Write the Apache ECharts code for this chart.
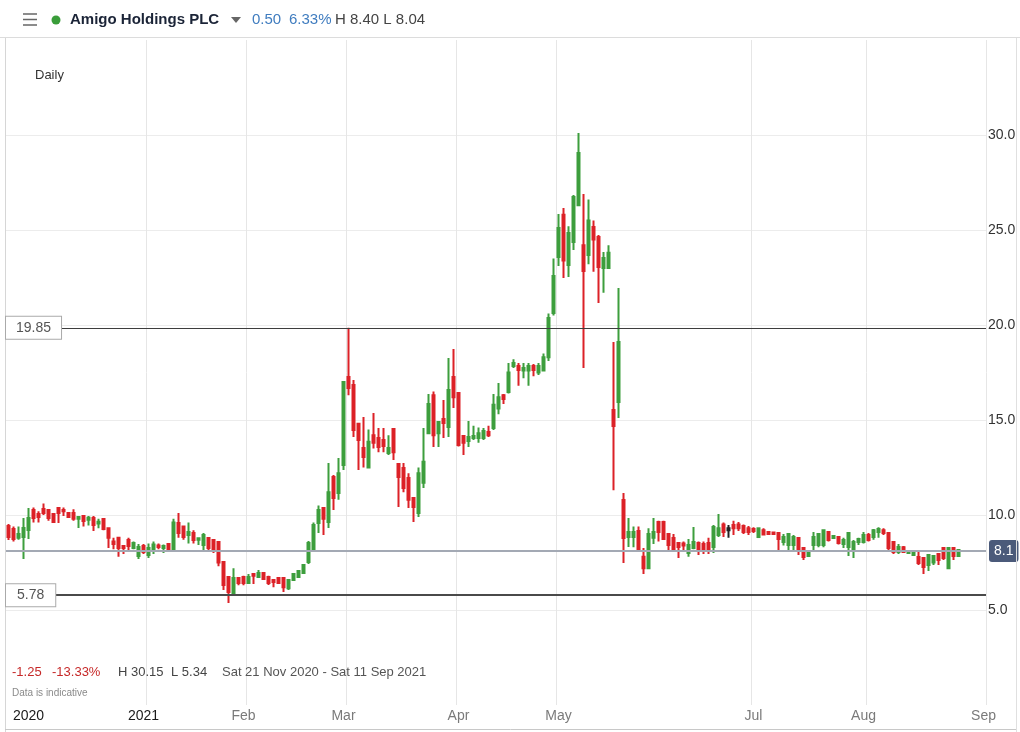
<!DOCTYPE html>
<html><head><meta charset="utf-8">
<script src="https://cdn.jsdelivr.net/npm/echarts@6/dist/echarts.min.js"></script>
<style>html,body{margin:0;padding:0;background:#fff}#c{width:1020px;height:732px}</style>
</head><body><div id="c"></div>
<script>
// ---- data (one candle per trading day) ----
const opens = [9.42,9.26,8.8,8.84,9.21,10.26,10.05,10.32,10.26,10.05,10.37,10.26,10.1,10.1,9.8,9.95,9.75,9.84,9.55,9.79,
9.3,8.6,8.8,8.37,8.68,8.26,7.84,8.37,7.9,8.2,8.4,8.26,8.47,8.16,9.58,9.4,8.95,9.05,8.7,8.42,
8.79,8.68,8.58,7.53,6.74,5.9,6.68,6.74,6.42,6.9,6.74,6.95,6.74,6.58,6.68,6.68,6.15,6.58,6.74,6.95,
7.53,8.16,9.58,10.37,9.63,12.0,11.16,12.63,17.26,16.84,14.8,13.53,12.5,14.2,14.05,13.95,13.26,14.53,12.68,12.47,
11.95,10.9,10.1,11.7,14.3,16.3,14.3,15.05,14.63,17.26,16.42,14.16,13.9,14.05,14.05,14.05,14.37,14.58,15.6,16.3,
16.47,17.84,17.84,17.6,17.6,17.84,17.5,17.6,18.3,20.63,23.58,25.8,23.16,24.37,26.3,24.2,23.68,25.16,24.63,23.0,
23.0,15.53,15.95,10.79,8.84,8.84,9.16,7.8,7.2,8.8,9.63,9.63,9.0,8.79,8.53,8.5,8.0,8.26,8.53,8.47,
8.53,8.32,8.95,9.5,9.3,9.47,9.5,9.42,9.3,9.26,8.84,9.2,9.1,9.08,9.05,8.58,8.42,8.42,8.79,8.26,
7.84,8.42,8.42,8.42,9.1,8.79,8.84,8.47,8.32,8.16,8.58,8.58,8.95,8.84,9.1,9.2,9.05,8.58,8.05,8.3,
8.0,7.9,7.79,7.74,7.37,7.5,7.95,8.26,7.2,8.26,7.84];
const closes = [8.84,8.74,9.0,9.32,9.84,9.84,9.9,10.1,9.84,9.63,10.1,10.2,9.9,9.8,9.9,9.68,9.85,9.47,9.65,9.26,
8.8,8.47,8.26,8.26,8.37,8.52,8.32,8.05,8.26,8.45,8.32,8.37,8.16,9.6,9.05,8.84,9.1,8.68,8.78,8.95,
8.26,8.16,7.5,6.32,5.95,6.68,6.42,6.42,6.74,6.8,6.95,6.63,6.42,6.47,6.42,6.2,6.58,6.9,7.05,7.37,
8.53,9.47,10.26,9.8,11.2,10.9,12.2,17.0,16.68,14.47,13.95,13.05,13.85,13.8,13.58,13.63,13.53,13.3,12.0,11.42,
10.8,10.42,12.2,12.8,15.84,14.2,14.9,14.84,16.58,16.2,13.68,13.8,14.1,14.16,14.3,14.42,14.2,15.8,16.2,16.1,
17.5,18.0,17.63,17.74,17.84,17.63,17.84,18.3,20.37,22.58,25.1,23.4,24.84,26.74,29.05,22.84,25.5,24.5,23.05,23.53,
23.8,14.68,19.1,8.79,9.1,9.1,8.2,7.2,9.0,9.1,9.1,8.74,8.42,8.2,8.32,8.4,8.42,8.58,8.2,8.2,
8.2,9.37,9.3,9.1,9.2,9.3,9.3,9.1,9.1,9.16,9.3,8.98,9.0,9.0,8.74,8.84,9.0,8.84,8.1,7.79,
8.1,8.84,9.0,9.2,8.68,8.9,8.53,8.68,9.05,8.58,8.74,8.95,8.68,9.2,9.26,9.05,8.26,8.05,8.32,8.05,
8.1,8.05,7.47,7.26,7.9,7.84,7.63,7.74,8.26,7.84,8.16];
const lows = [8.68,8.6,8.7,7.68,8.74,9.6,9.6,10.0,9.7,9.6,9.58,9.95,9.85,9.7,9.32,9.4,9.45,9.16,9.3,9.2,
8.26,8.2,7.8,7.95,8.1,8.2,7.68,7.95,7.74,7.95,8.2,8.0,8.1,8.1,8.8,8.7,8.5,8.5,8.42,8.16,
8.16,8.0,7.3,6.05,5.37,5.79,6.3,6.3,6.37,6.37,6.68,6.58,6.32,6.2,6.37,5.95,6.05,6.53,6.68,6.9,
7.42,8.1,9.05,8.95,9.32,10.26,10.8,12.37,16.3,14.1,12.37,12.5,12.5,13.5,13.3,13.3,13.16,12.9,10.42,11.2,
10.37,9.63,9.9,11.42,14.3,13.58,13.58,14.05,14.1,15.63,13.6,13.16,13.58,13.95,13.8,13.95,14.1,14.47,15.3,15.84,
16.4,17.74,16.8,17.2,16.8,17.3,17.37,17.55,18.1,20.5,23.1,22.47,22.53,23.95,26.3,17.74,23.2,22.8,21.16,21.7,
22.95,11.3,15.1,7.47,8.32,8.3,8.1,6.9,7.15,8.47,8.6,8.68,8.16,8.1,7.74,8.1,7.8,8.2,7.9,7.95,
7.95,8.0,8.84,8.84,8.8,8.95,9.16,9.0,8.95,9.05,8.84,8.95,8.95,8.95,8.16,8.4,8.16,8.16,7.9,7.63,
7.8,8.16,8.3,8.3,8.6,8.75,8.45,8.26,7.84,7.74,8.42,8.5,8.6,8.7,8.8,8.95,8.16,7.95,7.95,8.0,
7.95,7.84,7.37,6.9,7.05,7.37,7.37,7.63,7.15,7.63,7.79];
const highs = [9.53,9.4,9.4,9.84,10.37,10.4,10.2,10.6,10.3,10.1,10.42,10.4,10.15,10.3,9.95,9.95,9.95,9.95,9.8,9.84,
9.32,8.8,8.8,8.37,8.8,8.6,8.47,8.47,8.5,8.6,8.5,8.45,8.52,9.8,10.1,9.45,9.6,9.2,8.8,9.05,
8.8,8.7,8.6,7.53,6.74,7.2,6.74,6.8,6.9,6.95,7.1,7.0,6.8,6.63,6.74,6.74,6.63,6.95,7.1,7.42,
8.63,9.6,10.5,10.42,12.74,12.1,13.0,17.0,19.85,17.1,14.8,15.16,14.5,15.37,14.58,14.58,14.2,14.58,12.68,12.74,
12.2,10.95,12.5,14.58,16.37,16.5,14.9,16.05,18.26,18.74,16.42,14.16,14.95,14.7,14.6,14.58,14.7,16.37,16.95,16.37,
18.0,18.2,18.0,18.0,18.0,17.95,18.0,18.5,20.6,23.5,25.84,26.16,25.2,26.84,30.1,26.9,26.6,25.5,24.74,23.84,
24.2,19.1,21.95,11.16,9.84,9.4,9.4,8.26,9.3,9.84,9.7,9.7,9.0,9.0,8.58,8.6,8.74,9.37,8.6,8.6,
8.8,9.47,10.05,9.6,9.47,9.7,9.63,9.5,9.42,9.35,9.3,9.3,9.16,9.12,9.1,9.0,9.05,8.95,8.84,8.3,
8.16,9.1,9.05,9.2,9.1,8.95,8.9,8.8,9.1,8.68,8.8,9.1,9.05,9.26,9.35,9.3,9.1,8.63,8.47,8.37,
8.15,8.1,8.16,7.79,7.95,7.9,7.95,8.3,8.3,8.26,8.2];
const unchangedDays = [144];
const slotCount = 196;
const tickLabels = [
  {at:4, text:'2020', year:true}, {at:27, text:'2021', year:true}, {at:47, text:'Feb'},
  {at:67, text:'Mar'}, {at:90, text:'Apr'}, {at:110, text:'May'}, {at:149, text:'Jul'},
  {at:171, text:'Aug'}, {at:195, text:'Sep'}
];
const gridBoundaries = [28, 48, 68, 90, 110, 149, 172];
const priceLevels = [19.85, 5.78];
const lastPrice = 8.1;
const headerName = 'Amigo Holdings PLC';
const headerChange = '0.50', headerPct = '6.33%', headerHL = 'H 8.40 L 8.04';
const rangeChange = '-1.25', rangePct = '-13.33%', rangeHigh = 'H 30.15', rangeLow = 'L 5.34';
const rangeText = 'Sat 21 Nov 2020 - Sat 11 Sep 2021';

// ---- chart ----
const UP = '#3d9e3d', DOWN = '#dc2127';
const FONT = 'Liberation Sans, Arial, sans-serif';
const cats = [];
for (let k = 0; k < slotCount; k++) cats.push('');
tickLabels.forEach(t => { cats[t.at] = t.text; });
const labelSet = new Set(tickLabels.map(t => t.at));
const yearSet = new Set(tickLabels.filter(t => t.year).map(t => t.at));
const gridSet = new Set(gridBoundaries);

const candles = opens.map((o, i) => {
  const v = [o, closes[i], lows[i], highs[i]];
  if (unchangedDays.includes(i)) {
    return {value: v, itemStyle: {color:'#222', color0:'#222', borderColor:'#222', borderColor0:'#222'}};
  }
  return v;
});

const chart = echarts.init(document.getElementById('c'), null, {renderer: 'canvas'});
chart.setOption({
  animation: false,
  backgroundColor: '#fff',
  textStyle: {fontFamily: FONT},
  grid: {left: 6, right: 34, top: 40, bottom: 27},
  xAxis: {
    type: 'category', data: cats, boundaryGap: true,
    axisLine: {show: false}, axisTick: {show: false},
    axisLabel: {
      interval: (i) => labelSet.has(i), margin: 4,
      formatter: (v, i) => yearSet.has(i) ? '{y|' + v + '}' : '{m|' + v + '}',
      rich: {y: {color: '#1a1a1a', fontSize: 14, fontFamily: FONT}, m: {color: '#7a7a7a', fontSize: 14, fontFamily: FONT}}
    },
    splitLine: {show: true, interval: (i) => gridSet.has(i), lineStyle: {color: '#e6e6e6', width: 1}}
  },
  yAxis: {
    type: 'value', position: 'right', min: 0, max: 35, interval: 5, scale: false,
    axisLine: {show: false}, axisTick: {show: false},
    axisLabel: {color: '#333', fontSize: 14, margin: 2, showMinLabel: false, showMaxLabel: false,
      formatter: v => v.toFixed(1)},
    splitLine: {show: true, showMinLine: false, showMaxLine: false, lineStyle: {color: '#ececec', width: 1}}
  },
  series: [{
    type: 'candlestick', data: candles, barWidth: 2,
    itemStyle: {color: UP, color0: DOWN, borderColor: UP, borderColor0: DOWN, borderWidth: 2},
    markLine: {
      silent: true, symbol: ['none', 'none'], animation: false,
      data: [
        {yAxis: priceLevels[0], lineStyle: {color: '#3d3d3d', width: 1, type: 'solid'}, label: {show: false}},
        {yAxis: priceLevels[1], lineStyle: {color: '#4a4a4a', width: 2, type: 'solid'}, label: {show: false}},
        {yAxis: lastPrice, lineStyle: {color: '#a3a9b4', width: 2, type: 'solid'},
         label: {show: true, position: 'end', distance: 3, formatter: String(lastPrice),
                 backgroundColor: '#4b5a7a', color: '#fff', padding: [4, 5, 4, 5], borderRadius: 3,
                 fontSize: 14, fontFamily: FONT}}
      ]
    }
  }]
});

function txt(x, y, text, color, size, weight) {
  return {type: 'text', x: x, y: y, z: 100,
    style: {text: text, fill: color, font: (weight || 'normal') + ' ' + size + 'px ' + FONT, textVerticalAlign: 'middle'}};
}
function levelBox(v, padX) {
  const y = chart.convertToPixel({yAxisIndex: 0}, v);
  return {type: 'text', x: 6, y: y, z: 100,
    style: {text: v.toFixed(2), fill: '#555', font: '14px ' + FONT, textVerticalAlign: 'middle',
      backgroundColor: '#fff', borderColor: '#aaa', borderWidth: 1, padding: [4, padX, 4, padX]}};
}
const graphics = [
  // frame
  {type: 'line', shape: {x1: 0, y1: 37.5, x2: 1020, y2: 37.5}, style: {stroke: '#dcdcdc', lineWidth: 1}, z: 50},
  {type: 'line', shape: {x1: 5.5, y1: 38, x2: 5.5, y2: 732}, style: {stroke: '#d6d6d6', lineWidth: 1}, z: 50},
  {type: 'line', shape: {x1: 1016.5, y1: 38, x2: 1016.5, y2: 732}, style: {stroke: '#e0e0e0', lineWidth: 1}, z: 50},
  {type: 'line', shape: {x1: 5, y1: 729.5, x2: 1016, y2: 729.5}, style: {stroke: '#c8c8c8', lineWidth: 1}, z: 50},
  // header
  {type: 'line', shape: {x1: 23, y1: 14, x2: 37, y2: 14}, style: {stroke: '#666', lineWidth: 1.5}},
  {type: 'line', shape: {x1: 23, y1: 19.5, x2: 37, y2: 19.5}, style: {stroke: '#666', lineWidth: 1.5}},
  {type: 'line', shape: {x1: 23, y1: 25, x2: 37, y2: 25}, style: {stroke: '#666', lineWidth: 1.5}},
  {type: 'circle', shape: {cx: 56, cy: 20, r: 4.5}, style: {fill: '#3a9d3a'}},
  txt(70, 20, headerName, '#1b2437', 15, 'bold'),
  {type: 'polygon', shape: {points: [[231, 17], [241, 17], [236, 23]]}, style: {fill: '#666'}},
  txt(252, 20, headerChange, '#3f7cbf', 15),
  txt(289, 20, headerPct, '#3f7cbf', 15),
  txt(335, 20, headerHL, '#444', 15),
  txt(35, 75, 'Daily', '#333', 13),
  // summary
  txt(12, 672, rangeChange, '#c62828', 13),
  txt(52, 672, rangePct, '#c62828', 13),
  txt(118, 672, rangeHigh, '#444', 13),
  txt(171, 672, rangeLow, '#444', 13),
  txt(222, 672, rangeText, '#555', 13),
  txt(12, 693, 'Data is indicative', '#8a8a8a', 10),
  levelBox(priceLevels[0], 10),
  levelBox(priceLevels[1], 11)
];
chart.setOption({graphic: graphics});
</script></body></html>
